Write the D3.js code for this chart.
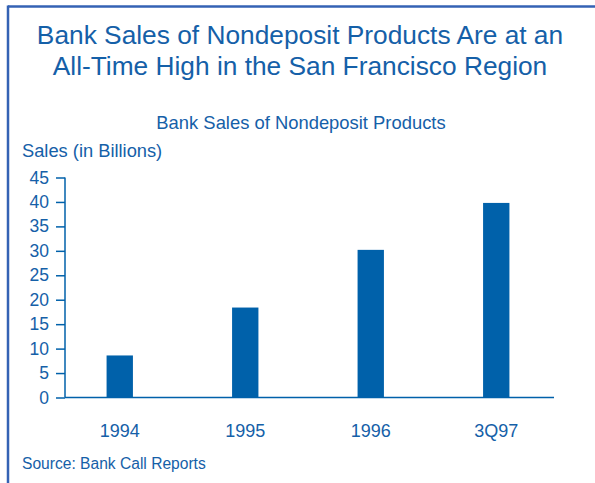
<!DOCTYPE html>
<html>
<head>
<meta charset="utf-8">
<script src="https://cdn.jsdelivr.net/npm/d3@7"></script>
<style>
  html, body { margin: 0; padding: 0; background: #fff; }
  svg { display: block; font-family: Arial, "Liberation Sans", Helvetica, sans-serif; }
</style>
</head>
<body>
<svg id="chart" width="595" height="483"></svg>
<script>
// Bank sales of nondeposit products, San Francisco region (billions of dollars)
const categories = ["1994", "1995", "1996", "3Q97"];
const sales = [8.6, 18.4, 30.2, 39.8];
const yTicks = [0, 5, 10, 15, 20, 25, 30, 35, 40, 45];

const titleLines = [
  "Bank Sales of Nondeposit Products Are at an",
  "All-Time High in the San Francisco Region"
];
const subtitle = "Bank Sales of Nondeposit Products";
const yLabel = "Sales (in Billions)";
const sourceNote = "Source: Bank Call Reports";

const textColor = "#1560a8";
const barColor = "#0061aa";
const frameColor = "#3462b4";

const svg = d3.select("#chart");

// Frame: top and left rules of the panel
svg.append("line").attr("x1", 8).attr("x2", 595).attr("y1", 6.5).attr("y2", 6.5)
  .attr("stroke", frameColor).attr("stroke-width", 2.5);
svg.append("line").attr("x1", 8).attr("x2", 8).attr("y1", 5.5).attr("y2", 483)
  .attr("stroke", frameColor).attr("stroke-width", 2.5);

// Title
svg.append("g").selectAll("text").data(titleLines).join("text")
  .attr("x", 300).attr("y", (d, i) => 43.5 + i * 31.5)
  .attr("text-anchor", "middle")
  .attr("font-size", 26.3)
  .attr("fill", textColor)
  .text(d => d);

svg.append("text").attr("x", 301).attr("y", 129)
  .attr("text-anchor", "middle").attr("font-size", 18.4)
  .attr("fill", textColor).text(subtitle);

svg.append("text").attr("x", 22).attr("y", 157)
  .attr("font-size", 18.3).attr("fill", textColor).text(yLabel);

svg.append("text").attr("x", 22).attr("y", 469)
  .attr("font-size", 15.6).attr("fill", textColor).text(sourceNote);

// Scales
const x = d3.scaleBand().domain(categories)
  .range([57, 559]).paddingInner(0.79).paddingOuter(0.395);
const y = d3.scaleLinear().domain([0, 45]).range([397.5, 177.5]);

// Bars
svg.append("g").selectAll("rect").data(categories).join("rect")
  .attr("x", d => x(d))
  .attr("width", x.bandwidth())
  .attr("y", (d, i) => y(sales[i]))
  .attr("height", (d, i) => y(0) - y(sales[i]))
  .attr("fill", barColor);

// Y axis
const yAxis = svg.append("g").attr("transform", "translate(65,0)")
  .call(d3.axisLeft(y).tickValues(yTicks).tickSize(9).tickPadding(7));
yAxis.select(".domain").attr("stroke", barColor).attr("stroke-width", 1.5)
  .attr("d", `M0,${y(45)}V${y(0)}`);
yAxis.selectAll(".tick line").attr("stroke", barColor).attr("stroke-width", 1.5);
yAxis.selectAll(".tick text").attr("fill", textColor)
  .attr("font-size", 17.5).attr("font-family", "Arial, 'Liberation Sans', sans-serif");

// X axis baseline and category labels
svg.append("line").attr("x1", 65).attr("x2", 554)
  .attr("y1", y(0)).attr("y2", y(0))
  .attr("stroke", barColor).attr("stroke-width", 1.5);

svg.append("g").selectAll("text").data(categories).join("text")
  .attr("x", d => x(d) + x.bandwidth() / 2)
  .attr("y", 437)
  .attr("text-anchor", "middle")
  .attr("font-size", 18)
  .attr("fill", textColor)
  .text(d => d);
</script>
</body>
</html>
